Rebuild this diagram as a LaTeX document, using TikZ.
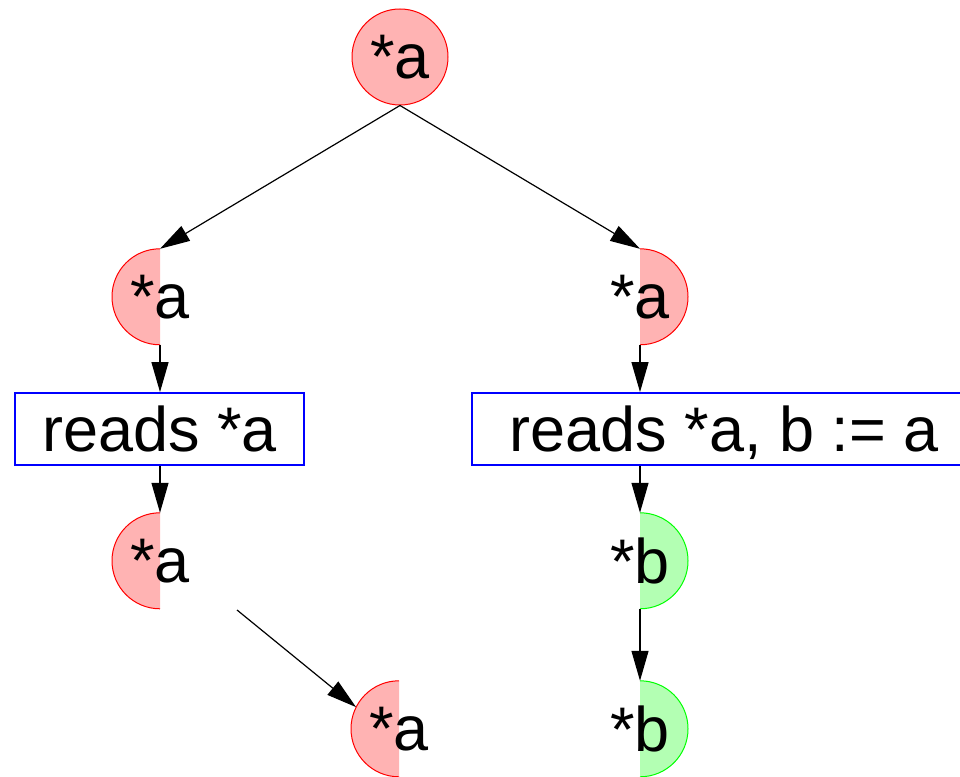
\documentclass[tikz,border=0pt]{standalone}
\usepackage{fontspec}
\setmainfont{Liberation Sans}
\usetikzlibrary{arrows.meta,backgrounds}

\definecolor{pinkfill}{RGB}{255,179,179}
\definecolor{greenfill}{RGB}{179,255,179}
\definecolor{pinkline}{RGB}{255,0,0}
\definecolor{greenline}{RGB}{0,255,0}
\definecolor{boxline}{RGB}{0,0,255}

\tikzset{
  lbl/.style={circle, minimum size=96pt, inner sep=0pt, text depth=0pt,
    font=\fontsize{63}{75}\selectfont},
  readbox/.style={rectangle, draw=boxline, line width=1.8pt, minimum height=72pt,
    inner sep=0pt, text depth=0pt, font=\fontsize{63}{75}\selectfont},
  flow/.style={line width=1.2pt, -{Triangle[length=30pt,width=17pt]}},
}

% half-disc on the left or right side of a named round node
\newcommand{\halfdiscL}[3]{%
  \fill[#2] (#1.north) arc[start angle=90, end angle=270, radius=48pt] -- cycle;
  \draw[#3, line width=1pt] (#1.north) arc[start angle=90, end angle=270, radius=48pt];}
\newcommand{\halfdiscR}[3]{%
  \fill[#2] (#1.north) arc[start angle=90, end angle=-90, radius=48pt] -- cycle;
  \draw[#3, line width=1pt] (#1.north) arc[start angle=90, end angle=-90, radius=48pt];}

\begin{document}
\begin{tikzpicture}[x=1pt, y=1pt]
  \useasboundingbox (0,0) rectangle (960,776);
  \clip (0,0) rectangle (960,776);

  % nodes
  \node[lbl, fill=pinkfill, draw=pinkline, line width=1pt] (top) at (400,719) {*a};
  \node[lbl] (l1) at (160,479) {*a};
  \node[lbl] (r1) at (640,479) {*a};
  \node[readbox, minimum width=289pt] (bl) at (159.5,347) {reads *a};
  \node[readbox, minimum width=504pt] (br) at (724,347) {reads *a, b := a};
  \node[lbl] (l2) at (160,215) {*a};
  \node[lbl] (r2) at (640,215) {*b};
  \node[lbl] (ll) at (399,47) {*a};
  \node[lbl] (r3) at (640,47) {*b};

  % half-disc markers behind the labels
  \begin{scope}[on background layer]
    \halfdiscL{l1}{pinkfill}{pinkline}
    \halfdiscR{r1}{pinkfill}{pinkline}
    \halfdiscL{l2}{pinkfill}{pinkline}
    \halfdiscR{r2}{greenfill}{greenline}
    \halfdiscL{ll}{pinkfill}{pinkline}
    \halfdiscR{r3}{greenfill}{greenline}
  \end{scope}

  \coordinate (l2tail) at (237,166);

  % connectors
  \draw[flow] (top.south) -- (l1.north);
  \draw[flow] (top.south) -- (r1.north);
  \draw[flow] (l1.south) -- (bl.north -| l1);
  \draw[flow] (bl.south -| l2) -- (l2.north);
  \draw[flow] (l2tail) -- (ll.153);
  \draw[flow] (r1.south) -- (br.north -| r1);
  \draw[flow] (br.south -| r2) -- (r2.north);
  \draw[flow] (r2.south) -- (r3.north);
\end{tikzpicture}
\end{document}
